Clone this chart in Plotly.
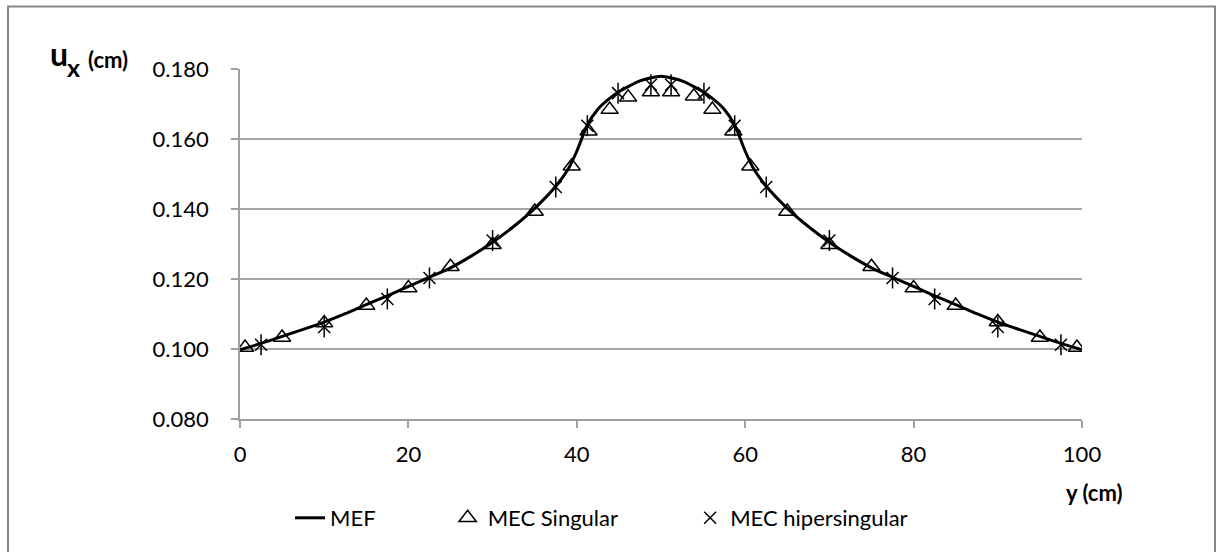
import plotly.graph_objects as go

# MEF (reference solution) curve samples
mef_x = [0, 2.5, 5, 7.5, 10, 12.5, 15, 17.5, 20, 22.5, 25, 27.5, 30, 32.5, 35, 37.5, 39, 40,
         41.25, 42.5, 43.75, 45, 47.5, 50,
         52.5, 55, 56.25, 57.5, 58.75, 60, 61, 62.5, 65, 67.5, 70, 72.5, 75, 77.5, 80,
         82.5, 85, 87.5, 90, 92.5, 95, 97.5, 100]
mef_y = [0.0998, 0.1016, 0.1036, 0.1056, 0.1077, 0.1101, 0.1127, 0.1152, 0.1179, 0.1205, 0.1232,
         0.1266, 0.1305, 0.1350, 0.1402, 0.1465, 0.1515, 0.1565,
         0.1640, 0.1685, 0.1713, 0.1735, 0.1766, 0.1779,
         0.1766, 0.1735, 0.1713, 0.1685, 0.1640, 0.1565, 0.1515, 0.1465, 0.1402, 0.1350,
         0.1305, 0.1266, 0.1232, 0.1205, 0.1179, 0.1152, 0.1127, 0.1101, 0.1077, 0.1056,
         0.1036, 0.1016, 0.0998]

# MEC Singular
sing_x = [0.6, 5, 10, 15, 20, 25, 30, 35, 39.4, 41.4, 43.9, 46.1, 48.8, 51.2, 53.9, 56.1,
          58.6, 60.6, 65, 70, 75, 80, 85, 90, 95, 99.4]
sing_y = [0.1004, 0.1033, 0.1074, 0.1124, 0.1174, 0.1235, 0.1298, 0.1393, 0.1522, 0.1622,
          0.1684, 0.1719, 0.1734, 0.1734, 0.1722, 0.1684, 0.1622, 0.1522, 0.1393, 0.1298,
          0.1235, 0.1174, 0.1124, 0.1077, 0.1033, 0.1004]

# MEC hipersingular
hip_x = [2.5, 10, 17.5, 22.5, 30, 37.5, 41.25, 44.9, 48.8, 51.2, 55.1, 58.75, 62.5, 70,
         77.5, 82.5, 90, 97.5]
hip_y = [0.1012, 0.1063, 0.1143, 0.1203, 0.1310, 0.1463, 0.1638, 0.1731, 0.1755, 0.1755,
         0.1731, 0.1638, 0.1463, 0.1310, 0.1203, 0.1143, 0.1063, 0.1012]

x_ticks = [0, 20, 40, 60, 80, 100]
y_ticks = [0.080, 0.100, 0.120, 0.140, 0.160, 0.180]

FONT = "Lato"
FS = 22
L, R, T, B = 240, 136, 69, 133
W, H = 1218, 552
pw, ph = W - L - R, H - T - B
PAD = "\u00a0" * 12

fig = go.Figure()
fig.add_trace(go.Scatter(x=mef_x, y=mef_y, mode="lines", name="MEF" + PAD,
                         line=dict(color="black", width=3, shape="spline", smoothing=0.6)))
fig.add_trace(go.Scatter(x=sing_x, y=sing_y, mode="markers", name="MEC Singular" + PAD,
                         marker=dict(symbol="triangle-up-open", size=15, color="black",
                                     line=dict(width=1.5, color="black"))))
fig.add_trace(go.Scatter(x=hip_x, y=hip_y, mode="markers", name="MEC hipersingular",
                         legendgroup="hip",
                         marker=dict(symbol="x-thin-open", size=12, color="black",
                                     line=dict(width=1.5, color="black"))))
fig.add_trace(go.Scatter(x=hip_x, y=hip_y, mode="markers", name="MEC hipersingular",
                         legendgroup="hip", showlegend=False,
                         marker=dict(symbol="line-ns-open", size=15, color="black",
                                     line=dict(width=1.5, color="black"))))

def px2x(p):
    return (p - L) / pw

def py2y(p):
    return (H - B - p) / ph

# outer chart frame
fig.add_shape(type="rect", xref="paper", yref="paper",
              x0=px2x(8), x1=px2x(1215), y0=py2y(560), y1=py2y(6.5),
              line=dict(color="#868686", width=2), fillcolor="rgba(0,0,0,0)", layer="above")

# y-axis title: u, subscript x, (cm)
for txt, xp, yp, sz in [("<b>u</b>", 48, 54, 32), ("<b>x</b>", 65, 67, 25),
                        ("<b>(cm)</b>", 86, 60, 22)]:
    fig.add_annotation(xref="paper", yref="paper", x=px2x(xp), y=py2y(yp), xanchor="left",
                       yanchor="middle", showarrow=False, text=txt,
                       font=dict(family=FONT, size=sz, color="black"))

fig.add_annotation(xref="paper", yref="paper", x=px2x(1064), y=py2y(492), xanchor="left",
                   yanchor="middle", showarrow=False, text="<b>y (cm)</b>",
                   font=dict(family=FONT, size=FS, color="black"))

fig.update_xaxes(range=[0, 100], tickvals=x_ticks, ticktext=[str(v) for v in x_ticks],
                 showgrid=False, zeroline=False, showline=True, linecolor="#a0a0a0",
                 linewidth=1.5, ticks="outside", ticklen=7, tickcolor="#a0a0a0",
                 tickwidth=1.5, ticklabelstandoff=8,
                 tickfont=dict(family=FONT, size=FS, color="black"))
fig.update_yaxes(range=[0.080, 0.180], tickvals=y_ticks,
                 ticktext=[f"{v:.3f}" for v in y_ticks],
                 showgrid=True, gridcolor="#a6a6a6", gridwidth=1.5, zeroline=False,
                 showline=True, linecolor="#a0a0a0", linewidth=1.5, ticks="outside",
                 ticklen=7, tickcolor="#a0a0a0", tickwidth=1.5, ticklabelstandoff=18,
                 tickfont=dict(family=FONT, size=FS, color="black"))

fig.update_layout(width=W, height=H, margin=dict(l=L, r=R, t=T, b=B),
                  paper_bgcolor="white", plot_bgcolor="white",
                  font=dict(family=FONT, size=FS, color="black"),
                  legend=dict(orientation="h", x=px2x(290), y=py2y(518), xanchor="left",
                              yanchor="middle", font=dict(family=FONT, size=FS, color="black"),
                              bgcolor="rgba(0,0,0,0)"),
                  showlegend=True)

fig.write_html("out.html", config={"displayModeBar": False},
               post_script="document.body.style.margin='0px';")
